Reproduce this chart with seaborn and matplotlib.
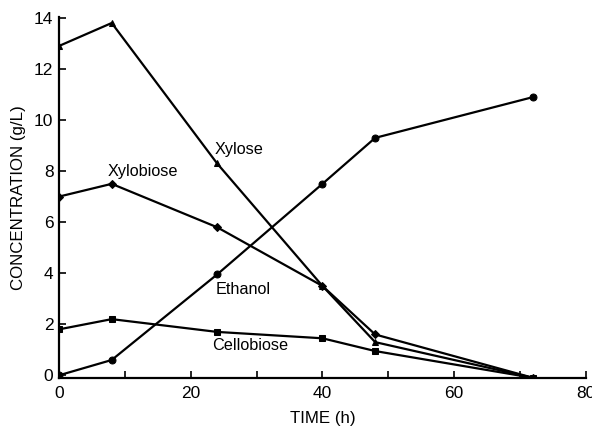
import matplotlib
matplotlib.use("Agg")
import matplotlib.pyplot as plt
import seaborn as sns
import pandas as pd

time_h = [0, 8, 24, 40, 48, 72]
xylose = [12.9, 13.8, 8.3, 3.5, 1.3, -0.1]
xylobiose = [7.0, 7.5, 5.8, 3.5, 1.6, -0.1]
ethanol = [0.0, 0.6, 3.95, 7.5, 9.3, 10.9]
cellobiose = [1.8, 2.2, 1.7, 1.45, 0.95, -0.1]

series_names = ["Xylose", "Xylobiose", "Ethanol", "Cellobiose"]
series_vals = [xylose, xylobiose, ethanol, cellobiose]
markers = {"Xylose": "^", "Xylobiose": "D", "Ethanol": "o", "Cellobiose": "s"}
msizes = {"Xylose": 4, "Xylobiose": 4, "Ethanol": 5, "Cellobiose": 4}

label_pos = {"Xylose": (23.7, 8.85), "Xylobiose": (7.4, 8.0),
             "Ethanol": (23.8, 3.35), "Cellobiose": (23.2, 1.15)}

sns.set_style("ticks")
plt.rcParams["font.family"] = ["Liberation Sans", "DejaVu Sans"]

fig = plt.figure(figsize=(5.92, 4.26), dpi=100)
ax = fig.add_axes([0.0997, 0.113, 0.890, 0.848])

for name, vals in zip(series_names, series_vals):
    df = pd.DataFrame({"time": time_h, "conc": vals})
    sns.lineplot(data=df, x="time", y="conc", ax=ax, color="black",
                 linewidth=1.6, marker=markers[name], markersize=msizes[name],
                 markeredgecolor="black", markerfacecolor="black")
    lx, ly = label_pos[name]
    ax.text(lx, ly, name, fontsize=11.7, va="center", ha="left", color="black")

ax.set_xlim(0, 80)
ax.set_ylim(-0.1, 14.05)
ax.set_xticks(range(0, 81, 10))
ax.set_xticklabels(["0", "", "20", "", "40", "", "60", "", "80"])
ax.set_yticks(range(0, 15, 2))
ax.tick_params(direction="in", length=5, width=1.2, labelsize=12.5, colors="black")
ax.tick_params(axis="x", pad=6)
ax.tick_params(axis="y", pad=4)
for s in ["top", "right"]:
    ax.spines[s].set_visible(False)
for s in ["left", "bottom"]:
    ax.spines[s].set_linewidth(1.6)
    ax.spines[s].set_color("black")

ax.set_xlabel("TIME (h)", fontsize=12.2, labelpad=7, color="black")
ax.set_ylabel("CONCENTRATION (g/L)", fontsize=12.2, labelpad=6, color="black")

fig.savefig("out.png", dpi=100)
